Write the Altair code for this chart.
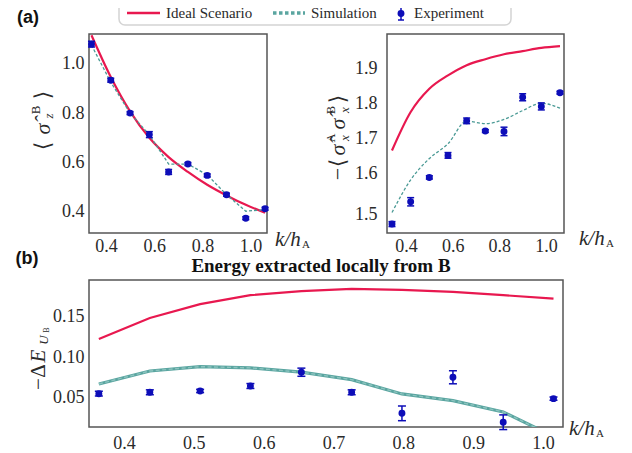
import altair as alt
import pandas as pd

# ---------------- data ----------------
x_top = [0.34, 0.42, 0.50, 0.58, 0.66, 0.74, 0.82, 0.90, 0.98, 1.06]
x_bottom = [0.364, 0.437, 0.509, 0.581, 0.654, 0.726, 0.798, 0.871, 0.943, 1.015]

sz_ideal = [1.115, 0.946, 0.807, 0.700, 0.622, 0.562, 0.510, 0.467, 0.429, 0.397]
sz_sim = [1.075, 0.925, 0.800, 0.712, 0.594, 0.594, 0.550, 0.470, 0.403, 0.410]
sz_exp = [1.079, 0.933, 0.800, 0.713, 0.562, 0.594, 0.548, 0.470, 0.375, 0.413]
sz_err = [0.012, 0.008, 0.006, 0.012, 0.010, 0.006, 0.006, 0.006, 0.006, 0.006]

sxx_ideal = [1.666, 1.775, 1.841, 1.879, 1.908, 1.925, 1.939, 1.948, 1.957, 1.962]
sxx_sim = [1.506, 1.585, 1.643, 1.685, 1.749, 1.742, 1.754, 1.779, 1.800, 1.786]
sxx_exp = [1.478, 1.532, 1.591, 1.652, 1.750, 1.721, 1.720, 1.817, 1.791, 1.830]
sxx_err = [0.006, 0.010, 0.004, 0.008, 0.008, 0.004, 0.012, 0.010, 0.010, 0.004]

e_ideal = [0.1224, 0.1480, 0.1650, 0.1760, 0.1810, 0.1838, 0.1826, 0.1800, 0.1760, 0.1717]
e_sim = [0.0672, 0.0831, 0.0884, 0.0869, 0.0816, 0.0725, 0.0550, 0.0468, 0.0329, 0.0030]
e_exp = [0.0553, 0.0570, 0.0586, 0.0647, 0.0816, 0.0570, 0.0312, 0.0754, 0.0203, 0.0492]
e_err = [0.003, 0.003, 0.002, 0.003, 0.005, 0.003, 0.009, 0.008, 0.009, 0.002]

tl_xticks = [0.4, 0.6, 0.8, 1.0]
tl_yticks = [0.4, 0.6, 0.8, 1.0]
tr_xticks = [0.4, 0.6, 0.8, 1.0]
tr_yticks = [1.5, 1.6, 1.7, 1.8, 1.9]
b_xticks = [0.4, 0.5, 0.6, 0.7, 0.8, 0.9, 1.0]
b_yticks = [0.05, 0.10, 0.15]

legend_labels = ["Ideal Scenario", "Simulation", "Experiment"]
bottom_title = "Energy extracted locally from B"

# ---------------- style ----------------
RED = "#e8184f"
TEAL = "#5aa5a0"
TEAL_D = "#4a9a95"
BLUE = "#0d0db8"
SERIF = "'Liberation Serif', 'Times New Roman', Times, Tinos, 'DejaVu Serif', serif"
MATH = SERIF
SANS = "'Liberation Sans', Arial, Helvetica, Arimo, sans-serif"
LBL = "#2a2a2a"

one = pd.DataFrame({"k": [0]})


def frame(xv, ideal, sim, exp, err):
    return pd.DataFrame({
        "x": xv, "ideal": ideal, "sim": sim, "exp": exp,
        "lo": [e - r for e, r in zip(exp, err)],
        "hi": [e + r for e, r in zip(exp, err)],
    })


def axis(vals, fmt, pad):
    return alt.Axis(values=vals, format=fmt, title=None, domain=False, ticks=False,
                    tickSize=0, grid=False, labelFont=SERIF, labelFontSize=18,
                    labelColor=LBL, labelPadding=pad, labelFlush=False,
                    labelOverlap=False)


def txt(origin, t, x, y, size, angle=0, align="center", baseline="middle",
        font=MATH, style="normal", weight="normal", color=LBL):
    return alt.Chart(one).mark_text(
        text=t, angle=angle, align=align, baseline=baseline, font=font,
        fontSize=size, fontStyle=style, fontWeight=weight, color=color,
    ).encode(x=alt.value(x - origin[0]), y=alt.value(y - origin[1]))


def rule(origin, x1, x2, y1, y2, color, width, dash=None):
    kw = dict(color=color, strokeWidth=width)
    if dash:
        kw["strokeDash"] = dash
    return alt.Chart(one).mark_rule(**kw).encode(
        x=alt.value(x1 - origin[0]), x2=alt.value(x2 - origin[0]),
        y=alt.value(y1 - origin[1]), y2=alt.value(y2 - origin[1]))


def data_layers(df, xs, ys, xax, yax, ideal_interp, sim_marks, cap=7):
    base = alt.Chart(df)
    X = lambda f: alt.X(f, type="quantitative", scale=xs, axis=xax)
    Y = lambda f: alt.Y(f, type="quantitative", scale=ys, axis=yax)
    layers = [base.mark_line(color=RED, strokeWidth=2.2, interpolate=ideal_interp,
                             clip=True).encode(x=X("x"), y=Y("ideal"))]
    for m in sim_marks:
        layers.append(base.mark_line(clip=True, **m).encode(x=X("x"), y=Y("sim")))
    layers += [
        base.mark_rule(color=BLUE, strokeWidth=1.5).encode(x=X("x"), y=Y("lo"), y2="hi"),
        base.mark_tick(orient="horizontal", color=BLUE, size=cap, thickness=1.5,
                       opacity=1).encode(x=X("x"), y=Y("lo")),
        base.mark_tick(orient="horizontal", color=BLUE, size=cap, thickness=1.5,
                       opacity=1).encode(x=X("x"), y=Y("hi")),
        base.mark_point(filled=True, color=BLUE, size=48, opacity=1).encode(
            x=X("x"), y=Y("exp")),
    ]
    return layers


def xlabel(origin, x, y):
    return [txt(origin, "k/h", x, y, 21, align="left", style="italic"),
            txt(origin, "A", x + 27, y + 5, 11, align="left")]


# ---------------- panel (a) left ----------------
OL = (88, 32)
df_l = frame(x_top, sz_ideal, sz_sim, sz_exp, sz_err)
tl = data_layers(
    df_l,
    alt.Scale(domain=[0.3297, 1.068], nice=False, zero=False),
    alt.Scale(domain=[0.315, 1.120], nice=False, zero=False),
    axis(tl_xticks, ".1f", 4), axis(tl_yticks, ".1f", 5), "monotone",
    [dict(color=TEAL_D, strokeWidth=1.3, strokeDash=[3, 2])])
tl += [
    txt(OL, "⟨", 42, 144, 22, angle=270),
    txt(OL, "σ̂", 42, 127, 22, style="italic", angle=270),
    txt(OL, "z", 48, 114, 13, style="italic", angle=270),
    txt(OL, "B", 35, 108, 13, angle=270),
    txt(OL, "⟩", 42, 93, 22, angle=270),
]
tl += xlabel(OL, 274, 238)
# "(a)" and legend
tl += [txt(OL, "(a)", 27, 16, 18, font=SANS, weight="bold", color="#111")]
tl += [
    alt.Chart(one).mark_rect(fill="white", stroke="#d4d4d4", strokeWidth=1.5,
                             cornerRadius=6).encode(
        x=alt.value(118 - OL[0]), x2=alt.value(510 - OL[0]),
        y=alt.value(-1 - OL[1]), y2=alt.value(23 - OL[1])),
    rule(OL, 126, 159, 11, 11, RED, 2.5),
    txt(OL, legend_labels[0], 165, 11, 15, align="left"),
    rule(OL, 272, 304, 11, 11, TEAL, 3.5, [3.5, 2.5]),
    txt(OL, legend_labels[1], 310, 11, 15, align="left"),
    rule(OL, 400, 400, 5, 18, BLUE, 1.5),
    rule(OL, 397, 403, 5, 5, BLUE, 1.5),
    rule(OL, 397, 403, 18, 18, BLUE, 1.5),
    alt.Chart(one).mark_point(filled=True, color=BLUE, size=48, opacity=1).encode(
        x=alt.value(400 - OL[0]), y=alt.value(11.5 - OL[1])),
    txt(OL, legend_labels[2], 413, 11, 15, align="left"),
]
left = alt.layer(*tl).properties(width=178, height=199)

# ---------------- panel (a) right ----------------
OR = (386, 32)
df_r = frame(x_top, sxx_ideal, sxx_sim, sxx_exp, sxx_err)
tr = data_layers(
    df_r,
    alt.Scale(domain=[0.3186, 1.0772], nice=False, zero=False),
    alt.Scale(domain=[1.4564, 1.6, 1.9965], range=[199, 139.7, 0], nice=False, zero=False),
    axis(tr_xticks, ".1f", 4), axis(tr_yticks, ".1f", 10), "monotone",
    [dict(color=TEAL_D, strokeWidth=1.3, strokeDash=[3, 2], interpolate="monotone")])
tr += [
    txt(OR, "−", 337, 172, 22, angle=270),
    txt(OR, "⟨", 337, 161, 22, angle=270),
    txt(OR, "σ̂", 337, 148, 22, style="italic", angle=270),
    txt(OR, "A", 330, 136, 12, angle=270),
    txt(OR, "x", 344, 136, 13, style="italic", angle=270),
    txt(OR, "σ̂", 337, 122, 22, style="italic", angle=270),
    txt(OR, "B", 330, 108, 12, angle=270),
    txt(OR, "x", 344, 108, 13, style="italic", angle=270),
    txt(OR, "⟩", 337, 97, 22, angle=270),
]
tr += xlabel(OR, 578, 237)
right = alt.layer(*tr).properties(width=177, height=199)

# ---------------- panel (b) ----------------
OB = (88, 282)
df_b = frame(x_bottom, e_ideal, e_sim, e_exp, e_err)
tb = data_layers(
    df_b,
    alt.Scale(domain=[0.3499, 1.0286], nice=False, zero=False),
    alt.Scale(domain=[0.01446, 0.1946], nice=False, zero=False),
    axis(b_xticks, ".1f", 7), axis(b_yticks, ".2f", 5), "linear",
    [dict(color=TEAL, strokeWidth=3.2),
     dict(color="#8cc4bf", strokeWidth=1.4, strokeDash=[4, 2.5])], cap=8)
tb += [
    txt(OB, "−", 38, 386, 21, angle=270),
    txt(OB, "Δ", 38, 373, 21, angle=270),
    txt(OB, "E", 38, 358, 21, style="italic", angle=270),
    txt(OB, "U", 43, 342, 13, style="italic", angle=270),
    txt(OB, "B", 46, 332, 8, angle=270),
]
tb += xlabel(OB, 568, 431)
tb += [
    txt(OB, "(b)", 26, 261, 18, font=SANS, weight="bold", color="#111"),
    txt(OB, bottom_title, 320, 274, 19, baseline="alphabetic",
        weight="bold", color="#111"),
]
bottom = alt.layer(*tb).properties(width=474, height=147)

chart = alt.vconcat(
    alt.hconcat(left, right, spacing=120, bounds="flush"),
    bottom, spacing=-7,
).properties(
    padding={"left": 6, "top": -9, "right": 5, "bottom": 4},
    background="white",
).configure_view(stroke="#555555", strokeWidth=1.5)

chart.save("out.html", embed_options={"renderer": "svg", "actions": False})
